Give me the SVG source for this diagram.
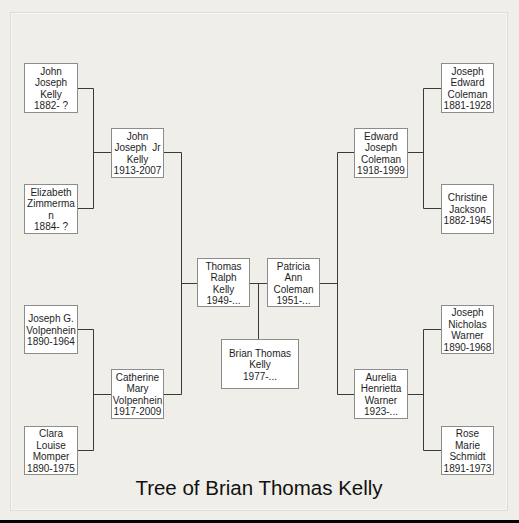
<svg xmlns="http://www.w3.org/2000/svg" width="519" height="523" viewBox="0 0 519 523">
<style>
.bg{fill:#efeee9}
.box{fill:#ffffff;stroke:#8c8c8c;stroke-width:1}
.sh{fill:#d6d5d0}
.t{font-family:"Liberation Sans",Arial,sans-serif;font-size:10px;fill:#1e1e1e;text-anchor:middle}
.c{fill:none;stroke:#3a3a3a;stroke-width:1}
.title{font-family:"Liberation Sans",Arial,sans-serif;font-size:20.5px;fill:#111;text-anchor:middle}
</style>
<rect class="bg" x="0" y="0" width="519" height="523"/>
<rect x="10.5" y="12.5" width="497" height="498" fill="none" stroke="#dedcd6" stroke-width="1"/>
<rect x="11.5" y="13.5" width="495" height="496" fill="none" stroke="#f7f6f2" stroke-width="1"/>
<rect x="0" y="520" width="519" height="3" fill="#000"/>
<g id="connectors">
<path class="c" d="M77 88.5H93.5V208.5H77M93.5 152.5H111"/>
<path class="c" d="M163 152.5H181.5V394.5H163M181.5 283.5H197"/>
<path class="c" d="M77 329.5H93.5V450.5H77M93.5 394.5H111"/>
<path class="c" d="M249 283.5H267M258.5 283.5V339"/>
<path class="c" d="M319 283.5H337.5M354 152.5H337.5V394.5H354"/>
<path class="c" d="M407 152.5H423.5M441 88.5H423.5V208.5H441"/>
<path class="c" d="M407 394.5H423.5M441 329.5H423.5V450.5H441"/>
</g>
<g id="p_jjk"><rect class="box" x="24.5" y="63.5" width="53" height="49"/><text class="t"><tspan x="51" y="74.5">John</tspan><tspan x="51" y="86.1">Joseph</tspan><tspan x="51" y="97.7">Kelly</tspan><tspan x="51" y="109.3">1882- ?</tspan></text></g>
<g id="p_ez"><rect class="box" x="24.5" y="184.5" width="53" height="49"/><text class="t"><tspan x="51" y="195.5">Elizabeth</tspan><tspan x="51" y="207.1">Zimmerma</tspan><tspan x="51" y="218.7">n</tspan><tspan x="51" y="230.3">1884- ?</tspan></text></g>
<g id="p_jjjr"><rect class="box" x="111.5" y="128.5" width="52" height="49"/><text class="t" xml:space="preserve"><tspan x="137.5" y="139.5">John</tspan><tspan x="137.5" y="151.1">Joseph  Jr</tspan><tspan x="137.5" y="162.7">Kelly</tspan><tspan x="137.5" y="174.3">1913-2007</tspan></text></g>
<g id="p_jgv"><rect class="box" x="24.5" y="305.5" width="53" height="48"/><text class="t"><tspan x="51" y="322">Joseph G.</tspan><tspan x="51" y="333.6">Volpenhein</tspan><tspan x="51" y="345.2">1890-1964</tspan></text></g>
<g id="p_clm"><rect class="box" x="24.5" y="426.5" width="53" height="48"/><text class="t"><tspan x="51" y="437">Clara</tspan><tspan x="51" y="448.6">Louise</tspan><tspan x="51" y="460.2">Momper</tspan><tspan x="51" y="471.8">1890-1975</tspan></text></g>
<g id="p_cmv"><rect class="box" x="111.5" y="369.5" width="52" height="49"/><text class="t"><tspan x="137.5" y="380.5">Catherine</tspan><tspan x="137.5" y="392.1">Mary</tspan><tspan x="137.5" y="403.7">Volpenhein</tspan><tspan x="137.5" y="415.3">1917-2009</tspan></text></g>
<g id="p_trk"><rect class="box" x="197.5" y="258.5" width="52" height="48"/><text class="t"><tspan x="223.5" y="269.5">Thomas</tspan><tspan x="223.5" y="281.1">Ralph</tspan><tspan x="223.5" y="292.7">Kelly</tspan><tspan x="223.5" y="304.3">1949-...</tspan></text></g>
<g id="p_pac"><rect class="box" x="267.5" y="258.5" width="52" height="48"/><text class="t"><tspan x="293.5" y="269.5">Patricia</tspan><tspan x="293.5" y="281.1">Ann</tspan><tspan x="293.5" y="292.7">Coleman</tspan><tspan x="293.5" y="304.3">1951-...</tspan></text></g>
<g id="p_btk"><rect class="box" x="221.5" y="339.5" width="77" height="49"/><text class="t"><tspan x="260" y="356.5">Brian Thomas</tspan><tspan x="260" y="368.1">Kelly</tspan><tspan x="260" y="379.7">1977-...</tspan></text></g>
<g id="p_ejc"><rect class="box" x="354.5" y="128.5" width="53" height="49"/><text class="t"><tspan x="381" y="139.5">Edward</tspan><tspan x="381" y="151.1">Joseph</tspan><tspan x="381" y="162.7">Coleman</tspan><tspan x="381" y="174.3">1918-1999</tspan></text></g>
<g id="p_jec"><rect class="box" x="441.5" y="63.5" width="52" height="49"/><text class="t"><tspan x="467.5" y="74.5">Joseph</tspan><tspan x="467.5" y="86.1">Edward</tspan><tspan x="467.5" y="97.7">Coleman</tspan><tspan x="467.5" y="109.3">1881-1928</tspan></text></g>
<g id="p_cj"><rect class="box" x="441.5" y="184.5" width="52" height="49"/><text class="t"><tspan x="467.5" y="201">Christine</tspan><tspan x="467.5" y="212.6">Jackson</tspan><tspan x="467.5" y="224.2">1882-1945</tspan></text></g>
<g id="p_ahw"><rect class="box" x="354.5" y="369.5" width="53" height="49"/><text class="t"><tspan x="381" y="380.5">Aurelia</tspan><tspan x="381" y="392.1">Henrietta</tspan><tspan x="381" y="403.7">Warner</tspan><tspan x="381" y="415.3">1923-...</tspan></text></g>
<g id="p_jnw"><rect class="box" x="441.5" y="305.5" width="52" height="48"/><text class="t"><tspan x="467.5" y="316">Joseph</tspan><tspan x="467.5" y="327.6">Nicholas</tspan><tspan x="467.5" y="339.2">Warner</tspan><tspan x="467.5" y="350.8">1890-1968</tspan></text></g>
<g id="p_rms"><rect class="box" x="441.5" y="426.5" width="52" height="48"/><text class="t"><tspan x="467.5" y="437">Rose</tspan><tspan x="467.5" y="448.6">Marie</tspan><tspan x="467.5" y="460.2">Schmidt</tspan><tspan x="467.5" y="471.8">1891-1973</tspan></text></g>
<text class="title" x="259" y="495">Tree of Brian Thomas Kelly</text>
</svg>
